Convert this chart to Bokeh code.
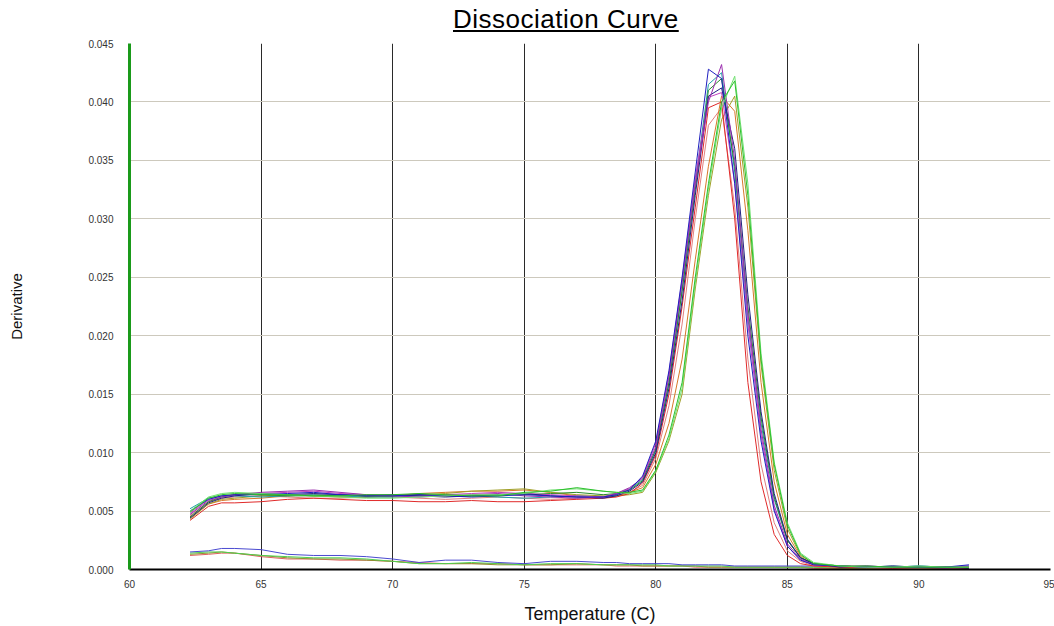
from bokeh.plotting import figure
from bokeh.models import Range1d, FixedTicker, Div
from bokeh.layouts import column
from bokeh.embed import file_html
from bokeh.resources import INLINE

TITLE = "Dissociation Curve"
X_LABEL = "Temperature (C)"
Y_LABEL = "Derivative"

X_TICKS = [60, 65, 70, 75, 80, 85, 90, 95]
X_GRID = [65, 70, 75, 80, 85, 90]
Y_TICKS = [0.0, 0.005, 0.010, 0.015, 0.020, 0.025, 0.030, 0.035, 0.040, 0.045]
Y_LABELS = ["0.000", "0.005", "0.010", "0.015", "0.020", "0.025", "0.030", "0.035", "0.040", "0.045"]

TEMP = [62.3, 63.0, 63.5, 64.0, 65.0, 66.0, 67.0, 68.0, 69.0, 70.0,
        71.0, 72.0, 73.0, 74.0, 75.0, 76.0, 77.0, 78.0, 78.5, 79.0,
        79.5, 80.0, 80.5, 81.0, 81.5, 82.0, 82.5, 83.0, 83.5, 84.0,
        84.5, 85.0, 85.5, 86.0, 87.0, 88.0, 89.0, 90.0, 91.0, 91.9]

blue = [0.0050, 0.0060, 0.0063, 0.0064, 0.0064, 0.0065, 0.0066, 0.0064, 0.0063, 0.0063,
        0.0064, 0.0063, 0.0062, 0.0063, 0.0064, 0.0063, 0.0062, 0.0062, 0.0064, 0.0068,
        0.0080, 0.0110, 0.0170, 0.0250, 0.0340, 0.0428, 0.0420, 0.0330, 0.0200, 0.0110,
        0.0050, 0.0020, 0.0008, 0.0004, 0.0003, 0.0002, 0.0003, 0.0002, 0.0002, 0.0004]
purple = [0.0047, 0.0059, 0.0062, 0.0064, 0.0066, 0.0067, 0.0068, 0.0066, 0.0064, 0.0063,
          0.0062, 0.0063, 0.0064, 0.0065, 0.0063, 0.0062, 0.0061, 0.0062, 0.0065, 0.0070,
          0.0078, 0.0105, 0.0165, 0.0245, 0.0330, 0.0400, 0.0432, 0.0350, 0.0220, 0.0120,
          0.0055, 0.0022, 0.0009, 0.0004, 0.0003, 0.0003, 0.0002, 0.0002, 0.0001, 0.0002]
teal = [0.0052, 0.0061, 0.0063, 0.0063, 0.0062, 0.0063, 0.0064, 0.0063, 0.0062, 0.0062,
        0.0063, 0.0064, 0.0063, 0.0062, 0.0061, 0.0062, 0.0063, 0.0062, 0.0064, 0.0069,
        0.0077, 0.0102, 0.0160, 0.0240, 0.0330, 0.0415, 0.0425, 0.0340, 0.0215, 0.0125,
        0.0060, 0.0025, 0.0010, 0.0005, 0.0003, 0.0002, 0.0002, 0.0003, 0.0002, 0.0002]
navy = [0.0044, 0.0057, 0.0061, 0.0063, 0.0065, 0.0064, 0.0065, 0.0064, 0.0063, 0.0064,
        0.0063, 0.0062, 0.0063, 0.0064, 0.0065, 0.0063, 0.0062, 0.0061, 0.0063, 0.0067,
        0.0075, 0.0100, 0.0155, 0.0230, 0.0320, 0.0405, 0.0412, 0.0360, 0.0235, 0.0135,
        0.0065, 0.0026, 0.0010, 0.0005, 0.0002, 0.0003, 0.0002, 0.0002, 0.0002, 0.0001]
red_a = [0.0042, 0.0054, 0.0057, 0.0057, 0.0058, 0.0060, 0.0061, 0.0060, 0.0059, 0.0059,
         0.0058, 0.0058, 0.0059, 0.0058, 0.0058, 0.0059, 0.0060, 0.0061, 0.0062, 0.0065,
         0.0074, 0.0098, 0.0150, 0.0225, 0.0310, 0.0395, 0.0400, 0.0300, 0.0160, 0.0075,
         0.0030, 0.0012, 0.0005, 0.0003, 0.0002, 0.0002, 0.0001, 0.0002, 0.0002, 0.0001]
pink = [0.0046, 0.0058, 0.0061, 0.0062, 0.0063, 0.0062, 0.0061, 0.0061, 0.0062, 0.0062,
        0.0061, 0.0060, 0.0061, 0.0062, 0.0061, 0.0060, 0.0061, 0.0062, 0.0063, 0.0066,
        0.0072, 0.0095, 0.0140, 0.0210, 0.0300, 0.0380, 0.0395, 0.0310, 0.0180, 0.0090,
        0.0040, 0.0016, 0.0007, 0.0003, 0.0002, 0.0002, 0.0002, 0.0001, 0.0002, 0.0002]
magenta = [0.0048, 0.0060, 0.0063, 0.0064, 0.0065, 0.0066, 0.0067, 0.0065, 0.0064, 0.0064,
           0.0063, 0.0064, 0.0065, 0.0066, 0.0065, 0.0064, 0.0063, 0.0062, 0.0065, 0.0069,
           0.0079, 0.0108, 0.0168, 0.0248, 0.0335, 0.0404, 0.0408, 0.0330, 0.0210, 0.0115,
           0.0052, 0.0020, 0.0008, 0.0004, 0.0003, 0.0002, 0.0002, 0.0002, 0.0002, 0.0003]
dark_green = [0.0045, 0.0058, 0.0062, 0.0064, 0.0064, 0.0063, 0.0063, 0.0064, 0.0063, 0.0063,
              0.0064, 0.0063, 0.0063, 0.0064, 0.0064, 0.0065, 0.0066, 0.0064, 0.0065, 0.0068,
              0.0076, 0.0103, 0.0160, 0.0238, 0.0325, 0.0410, 0.0420, 0.0345, 0.0225, 0.0130,
              0.0062, 0.0025, 0.0010, 0.0005, 0.0003, 0.0002, 0.0003, 0.0002, 0.0002, 0.0002]
green = [0.0049, 0.0061, 0.0064, 0.0065, 0.0064, 0.0064, 0.0063, 0.0063, 0.0064, 0.0064,
         0.0065, 0.0064, 0.0063, 0.0063, 0.0066, 0.0067, 0.0070, 0.0067, 0.0066, 0.0066,
         0.0068, 0.0085, 0.0115, 0.0160, 0.0250, 0.0330, 0.0400, 0.0418, 0.0320, 0.0180,
         0.0090, 0.0038, 0.0013, 0.0005, 0.0003, 0.0003, 0.0002, 0.0002, 0.0002, 0.0002]
olive = [0.0043, 0.0056, 0.0060, 0.0061, 0.0063, 0.0064, 0.0063, 0.0062, 0.0062, 0.0063,
         0.0064, 0.0065, 0.0067, 0.0068, 0.0069, 0.0066, 0.0064, 0.0063, 0.0063, 0.0064,
         0.0066, 0.0083, 0.0110, 0.0150, 0.0240, 0.0320, 0.0385, 0.0405, 0.0310, 0.0175,
         0.0085, 0.0035, 0.0012, 0.0005, 0.0003, 0.0002, 0.0002, 0.0002, 0.0002, 0.0002]
orange = [0.0044, 0.0056, 0.0059, 0.0060, 0.0061, 0.0063, 0.0064, 0.0063, 0.0062, 0.0063,
          0.0065, 0.0066, 0.0067, 0.0067, 0.0068, 0.0066, 0.0063, 0.0062, 0.0063, 0.0066,
          0.0070, 0.0090, 0.0125, 0.0180, 0.0265, 0.0345, 0.0405, 0.0392, 0.0290, 0.0160,
          0.0075, 0.0030, 0.0011, 0.0004, 0.0002, 0.0002, 0.0002, 0.0002, 0.0001, 0.0002]
light_green = [0.0050, 0.0062, 0.0065, 0.0066, 0.0065, 0.0064, 0.0063, 0.0062, 0.0061, 0.0061,
               0.0062, 0.0063, 0.0064, 0.0064, 0.0065, 0.0068, 0.0069, 0.0067, 0.0066, 0.0065,
               0.0067, 0.0084, 0.0112, 0.0155, 0.0245, 0.0325, 0.0395, 0.0422, 0.0330, 0.0185,
               0.0092, 0.0040, 0.0014, 0.0006, 0.0003, 0.0002, 0.0002, 0.0003, 0.0002, 0.0002]

low_blue = [0.0015, 0.0016, 0.0018, 0.0018, 0.0017, 0.0013, 0.0012, 0.0012, 0.0011, 0.0009,
            0.0006, 0.0008, 0.0008, 0.0006, 0.0005, 0.0007, 0.0007, 0.0006, 0.0006, 0.0005,
            0.0005, 0.0005, 0.0005, 0.0004, 0.0004, 0.0004, 0.0004, 0.0003, 0.0003, 0.0003,
            0.0003, 0.0003, 0.0003, 0.0003, 0.0003, 0.0002, 0.0002, 0.0003, 0.0002, 0.0003]
low_red = [0.0012, 0.0013, 0.0014, 0.0014, 0.0011, 0.0009, 0.0009, 0.0008, 0.0008, 0.0007,
           0.0006, 0.0005, 0.0005, 0.0005, 0.0004, 0.0004, 0.0004, 0.0004, 0.0003, 0.0003,
           0.0003, 0.0003, 0.0003, 0.0003, 0.0002, 0.0002, 0.0002, 0.0002, 0.0002, 0.0002,
           0.0002, 0.0002, 0.0002, 0.0001, 0.0001, 0.0001, 0.0001, 0.0001, 0.0001, 0.0001]
low_green = [0.0014, 0.0015, 0.0015, 0.0014, 0.0012, 0.0011, 0.0010, 0.0010, 0.0009, 0.0007,
             0.0005, 0.0005, 0.0006, 0.0005, 0.0004, 0.0005, 0.0005, 0.0004, 0.0004, 0.0004,
             0.0004, 0.0004, 0.0003, 0.0003, 0.0003, 0.0003, 0.0003, 0.0002, 0.0002, 0.0002,
             0.0002, 0.0002, 0.0002, 0.0002, 0.0002, 0.0002, 0.0002, 0.0002, 0.0002, 0.0002]
low_olive = [0.0013, 0.0014, 0.0015, 0.0014, 0.0012, 0.0010, 0.0009, 0.0009, 0.0008, 0.0007,
             0.0005, 0.0005, 0.0005, 0.0004, 0.0004, 0.0004, 0.0005, 0.0004, 0.0004, 0.0004,
             0.0003, 0.0003, 0.0003, 0.0003, 0.0003, 0.0002, 0.0002, 0.0002, 0.0002, 0.0002,
             0.0002, 0.0002, 0.0002, 0.0002, 0.0001, 0.0001, 0.0002, 0.0001, 0.0001, 0.0002]

SERIES = [
    (low_red, "#e06060"), (low_olive, "#909030"), (low_green, "#50d050"), (low_blue, "#4a4ad0"),
    (pink, "#e08080"), (orange, "#d8782a"), (olive, "#a0a028"), (red_a, "#e02a2a"),
    (teal, "#1fa0a8"), (dark_green, "#2a8a2a"), (magenta, "#c040c0"), (navy, "#202080"),
    (purple, "#9b2fae"), (blue, "#1f1fbf"), (light_green, "#70e070"), (green, "#2cc02c"),
]

FONT = "Liberation Sans"

p = figure(width=1054, height=590, output_backend="svg", toolbar_location=None,
           x_range=Range1d(60, 95), y_range=Range1d(0, 0.045),
           min_border_left=129, min_border_right=4, min_border_top=7, min_border_bottom=56)
p.outline_line_color = None
p.background_fill_color = "white"
p.border_fill_color = "white"

for ys, col in SERIES:
    p.line(TEMP, ys, line_color=col, line_width=1)

p.xaxis.ticker = FixedTicker(ticks=X_TICKS)
p.yaxis.ticker = FixedTicker(ticks=Y_TICKS)
p.yaxis.major_label_overrides = {t: l for t, l in zip(Y_TICKS, Y_LABELS)}
p.xgrid.ticker = FixedTicker(ticks=X_GRID)
p.ygrid.ticker = FixedTicker(ticks=Y_TICKS)
p.xgrid.grid_line_color = "#2a2a2a"
p.xgrid.grid_line_width = 1
p.ygrid.grid_line_color = "#cdc9bd"
p.ygrid.grid_line_width = 1

for ax in (p.xaxis[0], p.yaxis[0]):
    ax.major_tick_line_color = None
    ax.minor_tick_line_color = None
    ax.major_label_text_font = FONT
    ax.major_label_text_font_size = "10px"
    ax.major_label_text_color = "#333333"
    ax.axis_label_text_font = FONT
    ax.axis_label_text_font_style = "normal"
    ax.axis_label_text_color = "#111111"

p.xaxis.axis_label = X_LABEL
p.xaxis.axis_label_text_font_size = "18px"
p.xaxis.axis_line_color = "black"
p.xaxis.axis_line_width = 2
p.xaxis.major_label_standoff = 4
p.xaxis.axis_label_standoff = 13

p.yaxis.axis_label = Y_LABEL
p.yaxis.axis_label_text_font_size = "15px"
p.yaxis.axis_line_color = "#1a9a1a"
p.yaxis.axis_line_width = 3
p.yaxis.major_label_standoff = 10
p.yaxis.axis_label_standoff = 60

title = Div(text=('<span style="display:inline-block; margin-left:453px; margin-top:1px; '
                  'font-family:\'Liberation Sans\', Arial, sans-serif; font-size:26px; '
                  'letter-spacing:0.5px; text-decoration:underline; color:#000; white-space:nowrap;">'
                  + TITLE + '</span>'),
            width=1054, height=36, margin=0)

layout = column(title, p, spacing=0)
open("out.html", "w").write(file_html(layout, INLINE))
